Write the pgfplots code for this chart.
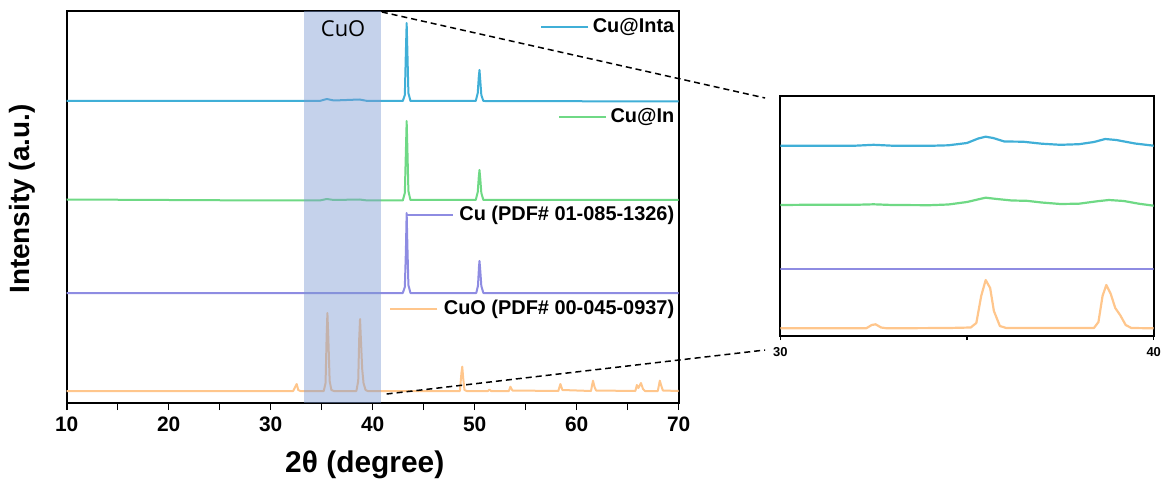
\documentclass[border=0pt]{standalone}
\usepackage{fontspec}
\setmainfont{Liberation Sans}
\setsansfont{Liberation Sans}
\newfontfamily\osans{Open Sans}
\usepackage{pgfplots}
\pgfplotsset{compat=1.18}

\definecolor{cInta}{HTML}{40AFD7}
\definecolor{cIn}{HTML}{6FD985}
\definecolor{cCu}{HTML}{8E8CE2}
\definecolor{cCuO}{HTML}{FFC68C}
\definecolor{bandc}{HTML}{7E9BD2}

\begin{document}
\begin{tikzpicture}
% main pattern
\begin{axis}[
  at={(0,0)}, anchor=south west,
  scale only axis, width=306bp, height=196bp,
  xmin=10, xmax=70, ymin=0, ymax=392,
  xtick={10,20,...,70}, minor x tick num=1,
  ytick=\empty, xtick pos=bottom,
  tick align=outside,
  major tick length=3.6bp, minor tick length=3.6bp,
  every tick/.style={black, line width=0.8bp},
  axis line style={line width=1bp},
  /pgf/number format/assume math mode=true,
  ticklabel style={font=\bfseries\fontsize{10.5}{12}\selectfont},
  xlabel={2θ (degree)},
  ylabel={Intensity (a.u.)},
  label style={font=\bfseries\fontsize{15}{18}\selectfont},
  xlabel style={at={(axis description cs:0.487,-0.158)}, anchor=center},
  ylabel style={at={(axis description cs:-0.073,0.52)}, anchor=center, font=\bfseries\fontsize{14}{17}\selectfont},
  every axis plot/.append style={line width=1bp, line join=round},
]
\addplot[cInta] coordinates {(10,302) (30,302) (34.8,302) (35.5,304) (36.2,302.5) (38.7,303.5) (39.5,302) (42.95,302) (43.15,308) (43.25,350) (43.33,380) (43.4,352) (43.5,310) (43.7,302) (50.1,302) (50.3,310) (50.4,326) (50.47,333) (50.55,322) (50.65,308) (50.85,302) (70,301.5)};
\addplot[cIn] coordinates {(10,203.5) (20,203) (30,202.5) (34.8,202.5) (35.5,204) (36.2,203) (38.7,203.5) (39.5,202.5) (42.95,202.5) (43.15,210) (43.25,250) (43.33,282) (43.4,255) (43.5,212) (43.7,203) (50.1,203) (50.3,211) (50.4,226) (50.47,233) (50.55,224) (50.65,210) (50.85,203) (70,203)};
\addplot[cCu] coordinates {(10,110) (42.95,110) (43.15,116) (43.25,150) (43.33,190) (43.4,158) (43.5,118) (43.7,110) (50.15,110) (50.32,117) (50.42,136) (50.47,142) (50.55,132) (50.65,117) (50.85,110) (70,110)};
\addplot[cCuO] coordinates {(10,12) (32.2,12) (32.45,17) (32.55,19) (32.7,13) (32.9,12) (35.2,12) (35.38,20) (35.48,65) (35.56,90) (35.65,65) (35.78,22) (35.95,13) (36.2,12) (38.4,12) (38.58,22) (38.68,65) (38.76,84) (38.85,62) (38.97,34) (39.1,20) (39.3,13) (39.5,12) (48.55,12) (48.7,30) (48.78,36.3) (48.88,24) (49.0,13) (49.2,12) (51.3,12) (51.45,13.5) (51.6,12) (53.35,12) (53.5,16.3) (53.7,12.5) (58.2,12) (58.4,19) (58.6,13) (61.4,12) (61.6,22.3) (61.75,16) (61.9,12.5) (65.75,12) (65.9,18) (66.05,15) (66.3,20) (66.5,14) (66.7,12) (67.95,12) (68.15,22.3) (68.3,17) (68.45,12.5) (70,12)};
% CuO region
\addplot[draw=none, fill=bandc, fill opacity=0.45] coordinates {(33.25,392) (40.85,392)} \closedcycle;
\node[font=\osans\fontsize{11}{13}\selectfont] at (axis cs:37.1,374) {CuO};
% labels beside the traces
\node[anchor=east, inner sep=0pt, font=\bfseries\fontsize{10}{12}\selectfont] (l1) at (axis cs:69.6,376) {Cu@Inta};
\draw[cInta, line width=1bp] (l1.west) ++(-2bp,0pt) -- ++(-23.5bp,0pt);
\node[anchor=east, inner sep=0pt, font=\bfseries\fontsize{10}{12}\selectfont] (l2) at (axis cs:69.6,286) {Cu@In};
\draw[cIn, line width=1bp] (l2.west) ++(-2bp,0pt) -- ++(-23.5bp,0pt);
\node[anchor=east, inner sep=0pt, font=\bfseries\fontsize{10}{12}\selectfont] (l3) at (axis cs:69.6,188) {Cu (PDF\# 01-085-1326)};
\draw[cCu, line width=1bp] (l3.west) ++(-3bp,0pt) -- ++(-23.5bp,0pt);
\node[anchor=east, inner sep=0pt, font=\bfseries\fontsize{10}{12}\selectfont] (l4) at (axis cs:69.6,94) {CuO (PDF\# 00-045-0937)};
\draw[cCuO, line width=1bp] (l4.west) ++(-3bp,0pt) -- ++(-23.5bp,0pt);
\coordinate (za) at (axis cs:40.9,391);
\coordinate (zb) at (axis cs:41.37,9);
\end{axis}

% zoomed 30-40 region
\begin{axis}[
  at={(356.8bp,33.5bp)}, anchor=south west,
  scale only axis, width=186.7bp, height=120bp,
  xmin=30, xmax=40, ymin=0, ymax=240,
  xtick={30,40}, minor x tick num=1,
  ytick=\empty, xtick pos=bottom,
  tick align=outside,
  major tick length=2bp, minor tick length=2bp,
  every tick/.style={black, line width=0.7bp},
  axis line style={line width=0.9bp},
  /pgf/number format/assume math mode=true,
  ticklabel style={font=\bfseries\fontsize{6.5}{8}\selectfont},
  every axis plot/.append style={line width=1.1bp, line join=round},
]
\addplot[cInta] coordinates {(30,190.3) (31,190.2) (32,190.3) (32.5,191.2) (33,190.3) (34,190.2) (34.5,190.7) (35,193) (35.3,197.5) (35.5,199.3) (35.7,198) (36,194.5) (36.5,194.3) (37,192.3) (37.5,191.2) (38,191.8) (38.4,194) (38.7,197) (39,196) (39.5,192.5) (40,190.3)};
\addplot[cIn] coordinates {(30,131) (31,131.3) (32,131.2) (32.5,131.7) (33,131) (34,130.8) (34.5,131.5) (35,134) (35.4,137.5) (35.5,138.3) (35.8,137) (36.2,135.5) (36.6,135.2) (37,133.5) (37.5,132) (38,132.3) (38.5,134.8) (38.8,136) (39.2,135) (39.6,132.3) (40,130.3)};
\addplot[cCu] coordinates {(30,67) (40,67)};
\addplot[cCuO] coordinates {(30,7.7) (32.3,7.7) (32.45,11) (32.55,11.7) (32.7,8.5) (32.85,7.7) (34.5,8) (35.1,8.5) (35.25,13) (35.38,40) (35.5,56) (35.62,48) (35.72,25) (35.88,10) (36.05,8) (38.4,8) (38.52,14) (38.63,40) (38.73,51) (38.85,42) (38.97,28) (39.1,21) (39.25,11) (39.4,8) (40,7.7)};
\end{axis}

\draw[dashed, dash pattern=on 3bp off 2bp, line width=0.75bp] (za) -- (349.2bp,152.5bp);
\draw[dashed, dash pattern=on 3bp off 2bp, line width=0.75bp] (zb) -- (349.2bp,26.5bp);

\pgfresetboundingbox
\path[use as bounding box] (-33.35bp,-41bp) rectangle (549.15bp,201.5bp);
\end{tikzpicture}
\end{document}
